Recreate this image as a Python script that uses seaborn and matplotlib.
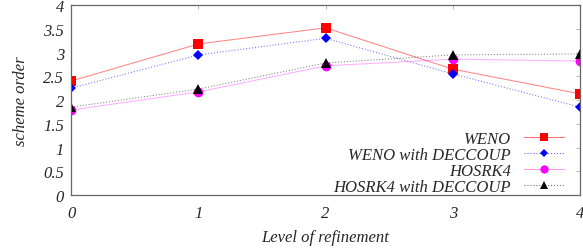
import numpy as np
import pandas as pd
import seaborn as sns
import matplotlib.pyplot as plt
from matplotlib.lines import Line2D

levels = [0, 1, 2, 3, 4]
weno = [2.40, 3.18, 3.52, 2.65, 2.13]
weno_dec = [2.25, 2.95, 3.30, 2.55, 1.85]
hosrk4 = [1.79, 2.17, 2.72, 2.86, 2.82]
hosrk4_dec = [1.85, 2.23, 2.78, 2.95, 2.97]

names = ["WENO", "WENO with DECCOUP", "HOSRK4", "HOSRK4 with DECCOUP"]

df = pd.DataFrame({
    "level": levels * 4,
    "order": weno + weno_dec + hosrk4 + hosrk4_dec,
    "scheme": [n for n in names for _ in levels],
})

sns.set_style("white")
plt.rcParams["font.family"] = ["Liberation Serif", "DejaVu Serif"]
plt.rcParams["font.style"] = "italic"
plt.rcParams["font.size"] = 12

fig = plt.figure(figsize=(5.83, 2.51), dpi=100)
ax = fig.add_axes([0.122, 0.219, 0.873, 0.757])

styles = {
    "WENO": dict(color="#ff0000", marker="s", ms=6.5, ls="-", alpha_line=0.45),
    "WENO with DECCOUP": dict(color="#0000ff", marker="D", ms=4.8, ls=":", alpha_line=0.5),
    "HOSRK4": dict(color="#ff00ff", marker="o", ms=7, ls="-", alpha_line=0.3),
    "HOSRK4 with DECCOUP": dict(color="#000000", marker="^", ms=6.5, ls=":", alpha_line=0.45),
}

for name in names:
    st = styles[name]
    sub = df[df["scheme"] == name]
    # faint connecting line
    sns.lineplot(data=sub, x="level", y="order", ax=ax, color=st["color"],
                 linestyle=st["ls"], linewidth=0.8, alpha=st["alpha_line"],
                 legend=False)
    ax.plot(sub["level"], sub["order"], linestyle="none", marker=st["marker"],
            markersize=st["ms"], color=st["color"], markeredgewidth=0)

handles = [Line2D([0], [0], color=styles[n]["color"], linestyle=styles[n]["ls"],
                  linewidth=0.8, alpha=styles[n]["alpha_line"] + 0.1) for n in names]
legend_markers = [Line2D([0], [0], color=styles[n]["color"], linestyle="none",
                         marker=styles[n]["marker"], markersize=styles[n]["ms"] * 0.85,
                         markeredgewidth=0) for n in names]
ax.legend([(h, m) for h, m in zip(handles, legend_markers)], names,
          loc="lower right", frameon=False, markerfirst=False,
          handlelength=2.4, labelspacing=0.0, handletextpad=0.8,
          borderaxespad=0.0, fontsize=12, bbox_to_anchor=(0.982, -0.035))

ax.set_xlim(0, 4)
ax.set_ylim(0, 4)
ax.set_xticks(levels)
ax.set_yticks(np.arange(0, 4.01, 0.5))
ax.set_yticklabels(["0", "0.5", "1", "1.5", "2", "2.5", "3", "3.5", "4"])
ax.tick_params(direction="in", length=3, width=0.5, color="#999999",
               top=True, right=True, labelsize=12)
ax.tick_params(axis="x", pad=7)
ax.tick_params(axis="y", pad=5)
for sp in ax.spines.values():
    sp.set_color("#666666")
    sp.set_linewidth(0.9)

ax.set_xlabel("Level of refinement", fontsize=12, labelpad=6)
ax.set_ylabel("scheme order", fontsize=12, labelpad=10)

fig.savefig("out.png", dpi=100)
